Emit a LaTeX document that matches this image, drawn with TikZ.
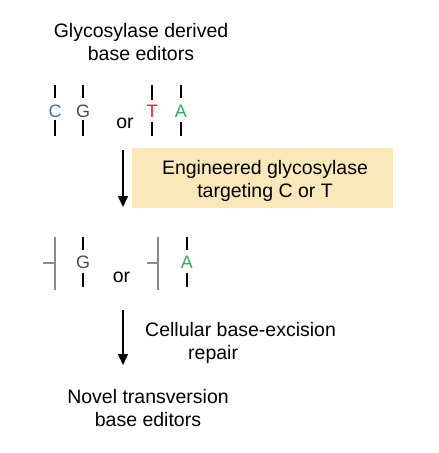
\documentclass[tikz,border=0pt]{standalone}
\usepackage{fontspec}
\setmainfont{Liberation Sans}
\usetikzlibrary{arrows.meta}

\definecolor{baseC}{HTML}{3E6FB0}
\definecolor{baseT}{HTML}{E3262E}
\definecolor{baseA}{HTML}{2EAA52}
\definecolor{baseG}{HTML}{454A55}
\definecolor{nick}{HTML}{8A8A8A}
\definecolor{enzyme}{HTML}{FBE8B8}

\tikzset{
  txt/.style={font=\fontsize{19.5}{23}\selectfont, align=center, inner sep=0pt},
  base/.style={font=\fontsize{18}{20}\selectfont, inner sep=0pt, anchor=base},
  strand/.style={line width=1.8pt, black},
  gap/.style={line width=1.5pt, nick},
  flow/.style={line width=1.5pt, -{Triangle[width=10pt,length=11pt]}},
}

\begin{document}
\begin{tikzpicture}[x=1pt,y=-1pt]
    \useasboundingbox (0,0) rectangle (439,453);
    % heading
    \node[txt] (top) at (141,42) {Glycosylase derived\\base editors};
    % first row of bases
    \node[base, baseC] (c1) at (55,117.5) {C};
    \node[base, baseG] (g1) at (83,117.5) {G};
    \node[txt, anchor=base] (or1) at (125,128) {or};
    \node[base, baseT] (t1) at (152,117.5) {T};
    \node[base, baseA] (a1) at (181,117.5) {A};
    \draw[strand] (55,85) -- (55,98) (55,120) -- (55,136);
    \draw[strand] (83,85) -- (83,98) (83,120) -- (83,136);
    \draw[strand] (152,85) -- (152,100) (152,122) -- (152,136);
    \draw[strand] (181,85) -- (181,98) (181,122) -- (181,136);
    % enzyme step
    \node[fill=enzyme, minimum width=261pt, minimum height=60pt, inner sep=0pt] (enz) at (262.5,178) {};
    \node[txt] (enztxt) at (265,181) {Engineered glycosylase\\targeting C or T};
    \coordinate (s1) at (123,150);
    \coordinate (e1) at (123,207);
    \draw[flow] (s1) -- (e1);
    % second row, base removed
    \draw[gap] (55,237) -- (55,290) (43,263) -- (55,263);
    \node[base, baseG] (g2) at (83,268.5) {G};
    \draw[strand] (83,237) -- (83,250) (83,273) -- (83,287);
    \node[txt, anchor=base] (or2) at (121.5,282) {or};
    \draw[gap] (158,237) -- (158,290) (147,263) -- (158,263);
    \node[base, baseA] (a2) at (187,268.5) {A};
    \draw[strand] (187,237) -- (187,250) (187,273) -- (187,287);
    % repair step
    \coordinate (s2) at (123,310);
    \coordinate (e2) at (123,365);
    \draw[flow] (s2) -- (e2);
    \node[txt, align=left, anchor=north west] (ber) at (145,322) {Cellular base-excision\\\hspace*{43pt}repair};
    % result
    \node[txt] (bottom) at (148,408) {Novel transversion\\base editors};
\end{tikzpicture}
\end{document}
